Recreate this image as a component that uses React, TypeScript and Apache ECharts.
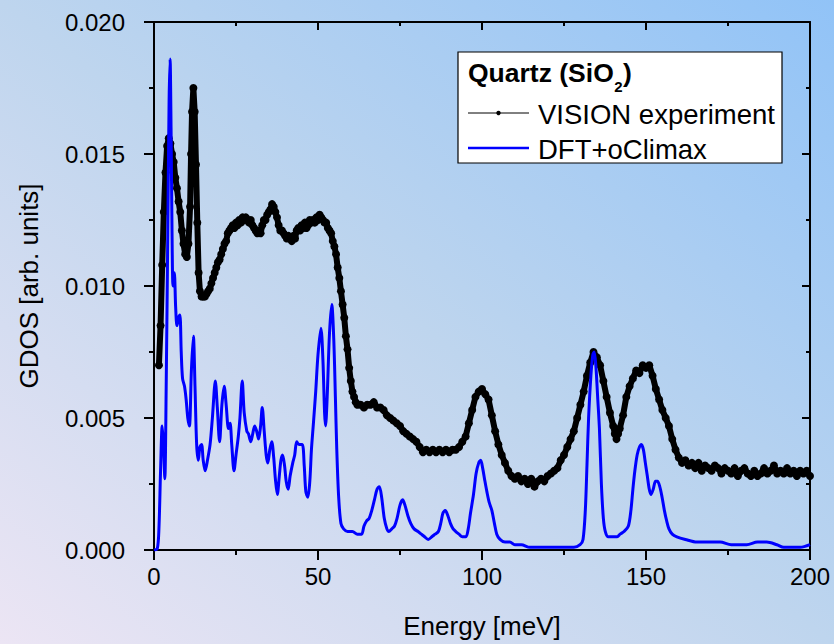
import React, { useEffect, useRef } from "react";
import * as echarts from "echarts";

// VISION experiment: energy (meV) and GDOS values
const expE = [
  1.5, 2.0, 2.5, 3.0, 3.5, 4.0, 4.5, 5.0, 5.5, 6.0, 6.5, 7.0, 7.5, 8.0, 8.5, 9.0, 9.5, 10.0, 10.5, 11.0,
  11.3, 11.6, 12.0, 12.4, 12.8, 13.2, 13.6, 14.0, 14.5, 15.0, 15.5, 16.0, 16.5, 17.0, 17.5, 18.0, 18.5, 19.0, 19.5, 20.0,
  20.5, 21.0, 21.5, 22.0, 22.5, 23.0, 23.5, 24.0, 24.5, 25.0, 25.5, 26.0, 26.5, 27.0, 27.5, 28.0, 28.5, 29.0, 29.5, 30.0,
  30.5, 31.0, 31.5, 32.0, 32.5, 33.0, 33.5, 34.0, 34.5, 35.0, 35.5, 36.0, 36.5, 37.0, 37.5, 38.0, 38.5, 39.0, 39.5, 40.0,
  40.5, 41.0, 41.5, 42.0, 42.5, 43.0, 43.5, 44.0, 44.5, 45.0, 45.5, 46.0, 46.5, 47.0, 47.5, 48.0, 48.5, 49.0, 49.5, 50.0,
  50.5, 51.0, 51.5, 52.0, 52.5, 53.0, 53.5, 54.0, 54.5, 55.0, 55.5, 56.0, 56.5, 57.0, 57.5, 58.0, 58.5, 59.0, 59.5, 60.0,
  60.5, 61.0, 61.5, 62.0, 63.0, 64.0, 65.0, 66.0, 67.0, 68.0, 69.0, 70.0, 71.0, 72.0, 73.0, 74.0, 75.0, 76.0, 77.0, 78.0,
  79.0, 80.0, 81.0, 82.0, 83.0, 84.0, 85.0, 86.0, 87.0, 88.0, 89.0, 90.0, 91.0, 92.0, 93.0, 94.0, 95.0, 96.0, 97.0, 98.0,
  99.0, 100.0, 101.0, 102.0, 103.0, 104.0, 105.0, 106.0, 107.0, 108.0, 109.0, 110.0, 111.0, 112.0, 113.0, 114.0, 115.0, 116.0, 117.0, 118.0,
  119.0, 120.0, 121.0, 122.0, 123.0, 124.0, 125.0, 126.0, 127.0, 128.0, 129.0, 130.0, 131.0, 132.0, 133.0, 134.0, 135.0, 136.0, 137.0, 138.0,
  139.0, 140.0, 140.5, 141.0, 141.5, 142.0, 143.0, 144.0, 145.0, 146.0, 147.0, 148.0, 149.0, 150.0, 151.0, 152.0, 153.0, 154.0, 155.0, 156.0,
  157.0, 158.0, 159.0, 160.0, 161.0, 162.0, 163.0, 164.0, 165.0, 166.0, 167.0, 168.0, 169.0, 170.0, 171.0, 172.0, 173.0, 174.0, 175.0, 176.0,
  177.0, 178.0, 179.0, 180.0, 181.0, 182.0, 183.0, 184.0, 185.0, 186.0, 187.0, 188.0, 189.0, 190.0, 191.0, 192.0, 193.0, 194.0, 195.0, 196.0,
  197.0, 198.0, 199.0, 200.0,
];
const expV = [
  0.0070, 0.0085, 0.0108, 0.0128, 0.0143, 0.0153, 0.0156, 0.0154, 0.0150, 0.0147, 0.0141, 0.0137, 0.0132, 0.0128, 0.0121, 0.0116, 0.0112, 0.0111, 0.0116, 0.0130,
  0.0150, 0.0166, 0.0175, 0.0166, 0.0146, 0.0124, 0.0105, 0.0098, 0.0096, 0.0096, 0.0096, 0.0097, 0.0098, 0.0099, 0.0101, 0.0103, 0.0105, 0.0107, 0.0109, 0.0110,
  0.0112, 0.0114, 0.0116, 0.0117, 0.0120, 0.0121, 0.0122, 0.0123, 0.0122, 0.0124, 0.0123, 0.0125, 0.0124, 0.0126, 0.0125, 0.0126, 0.0125, 0.0124, 0.0125, 0.0123,
  0.0122, 0.0121, 0.0120, 0.0121, 0.0120, 0.0123, 0.0125, 0.0125, 0.0127, 0.0128, 0.0129, 0.0131, 0.0130, 0.0128, 0.0126, 0.0123, 0.0121, 0.0121, 0.0120, 0.0119,
  0.0118, 0.0119, 0.0118, 0.0117, 0.0119, 0.0118, 0.0121, 0.0122, 0.0121, 0.0123, 0.0122, 0.0124, 0.0122, 0.0123, 0.0125, 0.0124, 0.0125, 0.0124, 0.0126, 0.0125,
  0.0127, 0.0126, 0.0125, 0.0124, 0.0124, 0.0122, 0.0121, 0.0120, 0.0117, 0.0115, 0.0112, 0.0107, 0.0103, 0.0098, 0.0093, 0.0088, 0.0081, 0.0076, 0.0069, 0.0064,
  0.0060, 0.0058, 0.0056, 0.0055, 0.0055, 0.0054, 0.0055, 0.0055, 0.0056, 0.0054, 0.0054, 0.0053, 0.0051, 0.0050, 0.0049, 0.0048, 0.0047, 0.0045, 0.0044, 0.0043,
  0.0042, 0.0041, 0.0039, 0.0037, 0.0038, 0.0037, 0.0038, 0.0037, 0.0038, 0.0037, 0.0038, 0.0037, 0.0038, 0.0038, 0.0039, 0.0041, 0.0043, 0.0048, 0.0053, 0.0058,
  0.0060, 0.0061, 0.0059, 0.0057, 0.0051, 0.0045, 0.0040, 0.0036, 0.0033, 0.0030, 0.0028, 0.0027, 0.0028, 0.0026, 0.0027, 0.0025, 0.0027, 0.0024, 0.0026, 0.0027,
  0.0026, 0.0028, 0.0029, 0.0030, 0.0031, 0.0034, 0.0036, 0.0039, 0.0042, 0.0045, 0.0050, 0.0055, 0.0060, 0.0066, 0.0071, 0.0075, 0.0073, 0.0070, 0.0064, 0.0058,
  0.0052, 0.0047, 0.0044, 0.0042, 0.0044, 0.0046, 0.0051, 0.0058, 0.0062, 0.0065, 0.0068, 0.0067, 0.0070, 0.0069, 0.0070, 0.0066, 0.0061, 0.0057, 0.0053, 0.0050,
  0.0047, 0.0042, 0.0038, 0.0035, 0.0033, 0.0034, 0.0032, 0.0033, 0.0031, 0.0033, 0.0030, 0.0032, 0.0031, 0.0030, 0.0032, 0.0031, 0.0029, 0.0031, 0.0030, 0.0029,
  0.0031, 0.0028, 0.0030, 0.0031, 0.0029, 0.0028, 0.0030, 0.0028, 0.0029, 0.0031, 0.0029, 0.0030, 0.0032, 0.0029, 0.0030, 0.0029, 0.0031, 0.0029, 0.0030, 0.0028,
  0.0030, 0.0029, 0.0030, 0.0028,
];

// DFT+oClimax simulation
const dftE = [
  0, 1.0, 1.5, 2.0, 2.5, 2.9, 3.3, 3.7, 4.2, 4.6, 4.9, 5.2, 5.5, 5.8, 6.2, 6.6, 7.0, 7.5, 7.9, 8.3,
  8.7, 9.3, 9.8, 10.3, 10.8, 11.4, 12.0, 12.5, 13.0, 13.5, 14.0, 14.5, 15.0, 15.6, 16.3, 17.1, 17.8, 18.7, 19.3, 20.0,
  20.7, 21.4, 22.0, 22.7, 23.2, 23.7, 24.4, 25.0, 25.7, 26.2, 26.9, 27.5, 28.3, 28.8, 29.5, 30.1, 30.7, 31.3, 31.9, 32.5,
  33.0, 33.6, 34.2, 34.7, 35.3, 35.9, 36.5, 37.0, 37.6, 38.2, 38.7, 39.2, 39.8, 40.3, 40.9, 41.5, 42.3, 42.9, 43.5, 44.2,
  45.2, 45.8, 46.3, 46.9, 47.5, 48.0, 48.6, 49.3, 50.0, 50.9, 51.5, 52.0, 52.3, 52.8, 53.5, 54.2, 54.8, 55.3, 55.7, 56.3,
  57.0, 57.8, 59.0, 60.5, 62.0, 63.3, 64.0, 64.8, 65.6, 66.4, 67.2, 68.0, 68.7, 69.4, 70.2, 71.0, 71.6, 72.5, 73.3, 74.1,
  75.0, 75.8, 76.5, 77.4, 78.3, 79.3, 80.5, 81.5, 82.5, 83.6, 84.7, 85.7, 86.7, 87.4, 88.1, 88.8, 89.6, 90.4, 91.2, 92.0,
  93.0, 94.0, 95.1, 95.8, 96.5, 97.4, 98.2, 99.0, 99.6, 100.2, 100.9, 101.5, 102.2, 103.0, 103.8, 104.5, 105.5, 107.0, 108.5, 110.0,
  112.0, 114.6, 117.0, 120.7, 123.0, 125.8, 128.0, 129.9, 130.8, 131.5, 132.0, 132.5, 133.2, 133.8, 134.2, 134.7, 135.3, 135.8, 136.4, 137.0,
  137.6, 138.5, 140.0, 141.2, 142.1, 143.3, 144.6, 145.4, 146.0, 146.6, 147.3, 148.0, 148.6, 149.2, 149.8, 150.4, 151.0, 151.5, 152.2, 152.9,
  153.5, 154.2, 154.9, 155.6, 156.3, 157.0, 158.0, 159.4, 162.0, 165.5, 169.0, 172.6, 176.0, 180.7, 184.0, 186.8, 189.9, 192.0, 194.0, 197.0,
  200.0,
];
const dftV = [
  0, 0.00005, 0.0008, 0.0030, 0.0047, 0.0040, 0.0027, 0.0060, 0.0120, 0.0170, 0.0186, 0.0160, 0.0120, 0.0100, 0.0105, 0.0092, 0.0085, 0.0088, 0.0089, 0.0075,
  0.0065, 0.0062, 0.0057, 0.0050, 0.0047, 0.0068, 0.0081, 0.0062, 0.0040, 0.0034, 0.0039, 0.0040, 0.0034, 0.0030, 0.0034, 0.0040, 0.0050, 0.0064, 0.0054, 0.0041,
  0.0055, 0.0062, 0.0055, 0.0046, 0.0048, 0.0040, 0.0030, 0.0036, 0.0043, 0.0050, 0.0064, 0.0052, 0.0045, 0.0044, 0.0041, 0.0044, 0.0047, 0.0045, 0.0042, 0.0047,
  0.0054, 0.0045, 0.0036, 0.0033, 0.0038, 0.0041, 0.0035, 0.0027, 0.0021, 0.0028, 0.0034, 0.0036, 0.0032, 0.0026, 0.0023, 0.0028, 0.0033, 0.0036, 0.0041, 0.0040,
  0.0040, 0.0032, 0.0022, 0.0020, 0.0026, 0.0038, 0.0048, 0.0060, 0.0074, 0.0084, 0.0072, 0.0052, 0.0047, 0.0058, 0.0082, 0.0093, 0.0080, 0.0058, 0.0039, 0.0020,
  0.0010, 0.0008, 0.0007, 0.0007, 0.0006, 0.0006, 0.0009, 0.0011, 0.0012, 0.0015, 0.0019, 0.0023, 0.0024, 0.0020, 0.0012, 0.0008, 0.0007, 0.0008, 0.0009, 0.0012,
  0.0017, 0.0019, 0.0017, 0.0013, 0.0010, 0.0008, 0.0007, 0.0006, 0.0005, 0.0004, 0.0005, 0.0006, 0.0007, 0.0010, 0.0014, 0.0015, 0.0013, 0.0010, 0.0008, 0.0007,
  0.0006, 0.0005, 0.0005, 0.0008, 0.0014, 0.0021, 0.0029, 0.0033, 0.0034, 0.0031, 0.0026, 0.0022, 0.0018, 0.0015, 0.0010, 0.0006, 0.0004, 0.0003, 0.0003, 0.0002,
  0.0002, 0.0001, 0.0001, 0.0001, 0.0001, 0.0001, 0.0001, 0.0002, 0.0004, 0.0015, 0.0032, 0.0050, 0.0066, 0.0074, 0.0075, 0.0070, 0.0057, 0.0046, 0.0025, 0.0012,
  0.0007, 0.0005, 0.0005, 0.0005, 0.0006, 0.0007, 0.0009, 0.0015, 0.0023, 0.0030, 0.0036, 0.0039, 0.0040, 0.0038, 0.0033, 0.0028, 0.0023, 0.0021, 0.0023, 0.0026,
  0.0026, 0.0024, 0.0020, 0.0015, 0.0011, 0.0008, 0.0006, 0.0005, 0.0004, 0.0003, 0.0003, 0.0003, 0.0002, 0.0002, 0.0003, 0.0003, 0.0002, 0.0001, 0.0001, 0.0001,
  0.0002,
];

const xTicks = { min: 0, max: 200, interval: 50 };
const yTicks = { min: 0, max: 0.02, interval: 0.005 };

const FONT = 'Arial, "Liberation Sans", sans-serif';

function measure(text: string, font: string): number {
  const c = document.createElement("canvas").getContext("2d");
  if (!c) return text.length * 12;
  c.font = font;
  return c.measureText(text).width;
}

export default function App() {
  const ref = useRef<HTMLDivElement>(null);
  useEffect(() => {
    document.body.style.margin = "0";
    if (!ref.current) return;
    const chart = echarts.init(ref.current, undefined, { renderer: "svg" });

    const axisLine = { show: true, onZero: false, lineStyle: { color: "#000", width: 2 } };
    const titleMain = "Quartz (SiO";
    const wMain = measure(titleMain, `bold 26.5px ${FONT}`);
    const w2 = measure("2", `bold 15px ${FONT}`);

    const option: any = {
      animation: false,
      backgroundColor: new echarts.graphic.LinearGradient(0, 1, 1, 0, [
        { offset: 0, color: "#ece5f4" },
        { offset: 0.5, color: "#bed5ee" },
        { offset: 1, color: "#91c3f7" },
      ]),
      grid: { left: 154, right: 24, top: 22, bottom: 93, containLabel: false },
      xAxis: [
        {
          type: "value",
          ...xTicks,
          position: "bottom",
          axisLine,
          axisTick: { show: true, inside: false, length: 10, lineStyle: { color: "#000", width: 2 } },
          minorTick: { show: true, splitNumber: 2, length: 5, lineStyle: { color: "#000", width: 2 } },
          splitLine: { show: false },
          axisLabel: { fontSize: 24, color: "#000", fontFamily: FONT, margin: 14 },
          name: "Energy [meV]",
          nameLocation: "middle",
          nameGap: 63,
          nameTextStyle: { fontSize: 26, color: "#000", fontFamily: FONT },
        },
        {
          type: "value",
          ...xTicks,
          position: "top",
          axisLine,
          axisTick: { show: true, inside: true, length: 8, lineStyle: { color: "#000", width: 2 } },
          minorTick: { show: true, splitNumber: 2, length: 4, lineStyle: { color: "#000", width: 2 } },
          splitLine: { show: false },
          axisLabel: { show: false },
        },
      ],
      yAxis: [
        {
          type: "value",
          ...yTicks,
          position: "left",
          axisLine,
          axisTick: { show: true, inside: false, length: 10, lineStyle: { color: "#000", width: 2 } },
          minorTick: { show: true, splitNumber: 2, length: 5, lineStyle: { color: "#000", width: 2 } },
          splitLine: { show: false },
          axisLabel: {
            fontSize: 24,
            color: "#000",
            fontFamily: FONT,
            margin: 29,
            formatter: (v: number) => v.toFixed(3),
          },
          name: "GDOS [arb. units]",
          nameLocation: "middle",
          nameGap: 112,
          nameRotate: 90,
          nameTextStyle: { fontSize: 26, color: "#000", fontFamily: FONT },
        },
        {
          type: "value",
          ...yTicks,
          position: "right",
          axisLine,
          axisTick: { show: true, inside: true, length: 8, lineStyle: { color: "#000", width: 2 } },
          minorTick: { show: true, splitNumber: 2, length: 4, lineStyle: { color: "#000", width: 2 } },
          splitLine: { show: false },
          axisLabel: { show: false },
        },
      ],
      series: [
        {
          name: "VISION experiment",
          type: "line",
          xAxisIndex: 0,
          yAxisIndex: 0,
          data: expE.map((e, i) => [e, expV[i]]),
          symbol: "circle",
          symbolSize: 8,
          showAllSymbol: true,
          lineStyle: { color: "#000", width: 6 },
          itemStyle: { color: "#000" },
          z: 2,
        },
        {
          name: "DFT+oClimax",
          type: "line",
          xAxisIndex: 0,
          yAxisIndex: 0,
          data: dftE.map((e, i) => [e, dftV[i]]),
          symbol: "none",
          smooth: 0.3,
          lineStyle: { color: "#0000ff", width: 3 },
          z: 3,
        },
      ],
      graphic: [
        {
          type: "rect",
          shape: { x: 458, y: 52, width: 324, height: 111 },
          style: { fill: "#ffffff", stroke: "#000", lineWidth: 1.2 },
          z: 10,
        },
        {
          type: "text",
          x: 468,
          y: 73,
          style: { text: titleMain, font: `bold 26.5px ${FONT}`, fill: "#000", verticalAlign: "middle" },
          z: 11,
        },
        {
          type: "text",
          x: 468 + wMain + 0.5,
          y: 86,
          style: { text: "2", font: `bold 15px ${FONT}`, fill: "#000", verticalAlign: "middle" },
          z: 11,
        },
        {
          type: "text",
          x: 468 + wMain + w2 + 1,
          y: 73,
          style: { text: ")", font: `bold 26.5px ${FONT}`, fill: "#000", verticalAlign: "middle" },
          z: 11,
        },
        {
          type: "line",
          shape: { x1: 468, y1: 113, x2: 529, y2: 113 },
          style: { stroke: "#000", lineWidth: 1 },
          z: 11,
        },
        {
          type: "circle",
          shape: { cx: 498.5, cy: 113, r: 2.2 },
          style: { fill: "#000" },
          z: 12,
        },
        {
          type: "text",
          x: 538,
          y: 114,
          style: { text: "VISION experiment", font: `27.5px ${FONT}`, fill: "#000", verticalAlign: "middle" },
          z: 11,
        },
        {
          type: "line",
          shape: { x1: 468, y1: 148, x2: 529, y2: 148 },
          style: { stroke: "#0000ff", lineWidth: 2.5 },
          z: 11,
        },
        {
          type: "text",
          x: 538,
          y: 149,
          style: { text: "DFT+oClimax", font: `27.5px ${FONT}`, fill: "#000", verticalAlign: "middle" },
          z: 11,
        },
      ],
    };
    chart.setOption(option);
    return () => chart.dispose();
  }, []);
  return <div ref={ref} style={{ width: 834, height: 644 }} />;
}
